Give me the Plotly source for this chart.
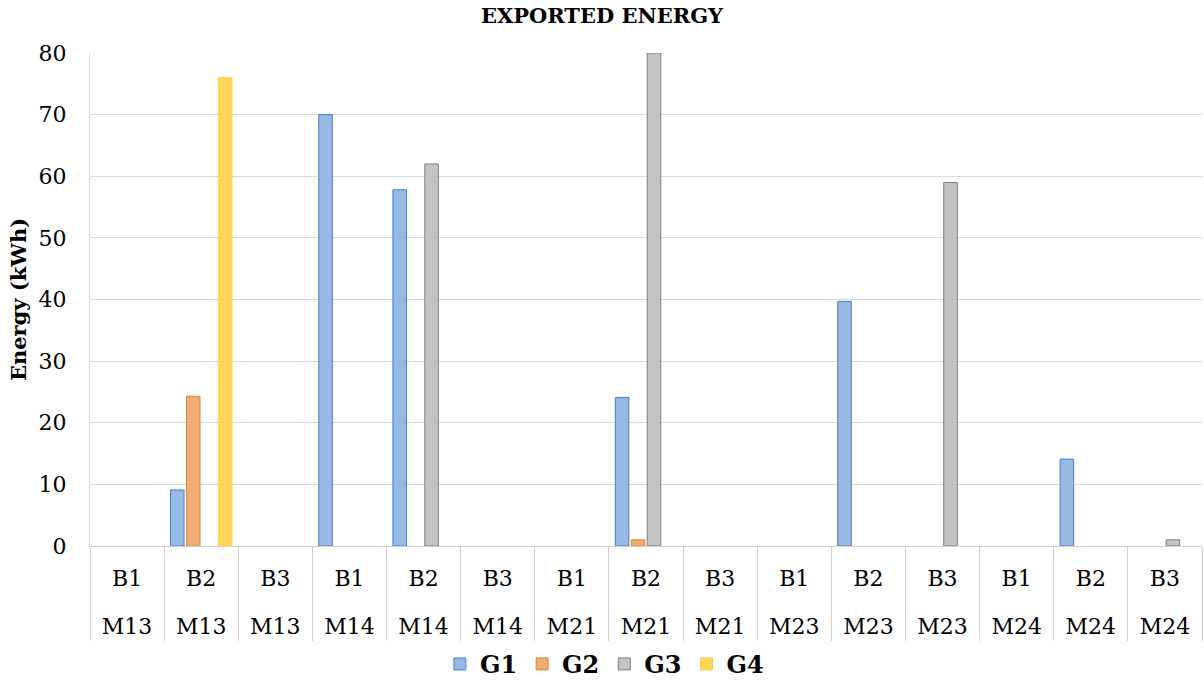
import plotly.graph_objects as go

# ---- data ----
machines = ["M13", "M13", "M13", "M14", "M14", "M14", "M21", "M21", "M21",
            "M23", "M23", "M23", "M24", "M24", "M24"]
buses = ["B1", "B2", "B3"] * 5
g1 = [None, 9.1, None, 70, 57.8, None, None, 24.1, None, None, 39.7, None, None, 14.1, None]
g2 = [None, 24.3, None, None, None, None, None, 1.0, None, None, None, None, None, None, None]
g3 = [None, None, None, None, 62, None, None, 80, None, None, None, 59, None, None, 1.0]
g4 = [None, 76, None, None, None, None, None, None, None, None, None, None, None, None, None]

series = [
    ("G1", g1, "rgba(141,180,226,0.92)", "#4A7EBB"),
    ("G2", g2, "rgba(240,164,108,0.92)", "#D08C2A"),
    ("G3", g3, "rgba(190,190,190,0.92)", "#7F7F7F"),
    ("G4", g4, "rgba(255,211,74,0.92)", "#F8CF50"),
]

cats = [f"{b} {m}" for b, m in zip(buses, machines)]
idx = list(range(len(cats)))

FONT = "DejaVu Serif"

fig = go.Figure()
for name, vals, fill, line in series:
    fig.add_trace(go.Bar(
        x=cats, y=vals, name=name,
        marker=dict(color=fill, line=dict(color=line, width=1)),
    ))

# invisible helper traces so the label axes exist
fig.add_trace(go.Scatter(x=[], y=[], xaxis="x2", showlegend=False, hoverinfo="skip"))
fig.add_trace(go.Scatter(x=[], y=[], xaxis="x3", showlegend=False, hoverinfo="skip"))

fig.update_layout(
    width=1204, height=683,
    margin=dict(l=90, r=2, t=53, b=137, autoexpand=False),
    paper_bgcolor="white", plot_bgcolor="white",
    barmode="group", bargap=0.14, bargroupgap=0.15,
    title=dict(text="<b>EXPORTED ENERGY</b>", x=0.5, xanchor="center",
               y=1 - 16 / 683, yanchor="middle", yref="container",
               font=dict(family=FONT, size=21, color="black")),
    font=dict(family=FONT, color="black"),
    xaxis=dict(
        type="category", categoryorder="array", categoryarray=cats,
        showticklabels=False, ticks="outside", tickson="boundaries",
        ticklen=94, tickcolor="#D0D0D0", tickwidth=1,
        showline=True, linecolor="#D0D0D0", linewidth=1,
        showgrid=False, zeroline=False, automargin=False,
    ),
    xaxis2=dict(
        overlaying="x", anchor="y", side="bottom",
        range=[-0.5, len(cats) - 0.5], tickmode="array",
        tickvals=idx, ticktext=buses, ticks="", showgrid=False,
        zeroline=False, showline=False, ticklabelstandoff=17,
        tickfont=dict(family=FONT, size=22, color="black"), automargin=False,
    ),
    xaxis3=dict(
        overlaying="x", anchor="y", side="bottom",
        range=[-0.5, len(cats) - 0.5], tickmode="array",
        tickvals=idx, ticktext=machines, ticks="", showgrid=False,
        zeroline=False, showline=False, ticklabelstandoff=65,
        tickfont=dict(family=FONT, size=22, color="black"), automargin=False,
    ),
    yaxis=dict(
        range=[0, 80], dtick=10, tick0=0,
        showgrid=True, gridcolor="#D9D9D9", gridwidth=1,
        showline=True, linecolor="#D9D9D9", linewidth=1,
        zeroline=False, ticks="", ticklabelstandoff=18, automargin=False,
        tickfont=dict(family=FONT, size=22, color="black"),
        title=dict(text="<b>Energy (kWh)</b>", standoff=6,
                   font=dict(family=FONT, size=21, color="black")),
    ),
    legend=dict(
        orientation="h", xref="container", x=0.502, xanchor="center",
        y=-0.24, yanchor="middle",
        font=dict(family=FONT, size=24, color="black", weight="bold"),
        itemwidth=30, traceorder="normal",
    ),
)

fig.write_html("out.html",
               config={"displayModeBar": False},
               post_script="document.body.style.margin='0';document.body.style.padding='0';")
